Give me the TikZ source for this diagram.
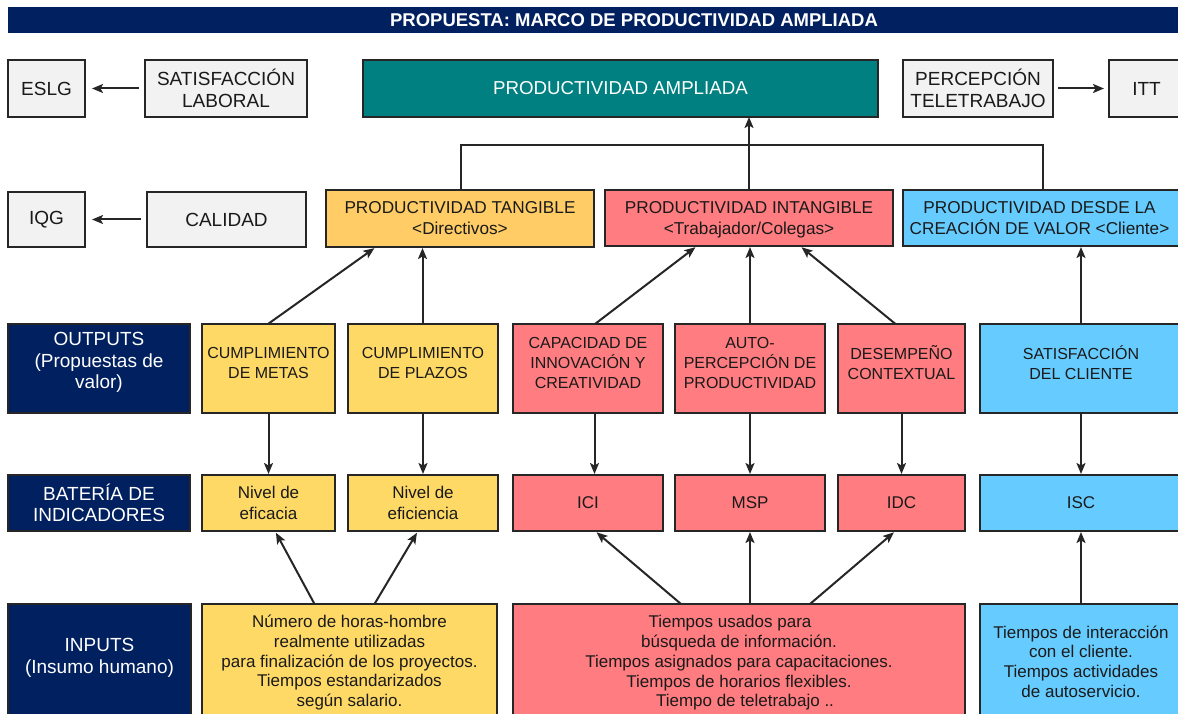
\documentclass[tikz,border=0pt]{standalone}
\usepackage{fontspec}
\setmainfont{Liberation Sans}
\usetikzlibrary{arrows.meta}
\definecolor{navy}{HTML}{002060}
\definecolor{tealbox}{HTML}{008080}
\definecolor{lightgrey}{HTML}{F2F2F2}
\definecolor{orangebox}{HTML}{FFCC66}
\definecolor{yellowbox}{HTML}{FFD966}
\definecolor{pinkbox}{HTML}{FF7C80}
\definecolor{bluebox}{HTML}{66CCFF}
\definecolor{edge}{HTML}{262626}
\definecolor{ink}{HTML}{1A1A1A}
% box given by its corners: [text shift], name, x1, y1, x2, y2, style, text
\newcommand{\bx}[8][0]{%
  \node[#7, minimum width={(#5-#3)*1pt}, minimum height={(#6-#4)*1pt}]
    (#2) at ({(#3+#5)/2},{(#4+#6)/2}) {};
  \node[#7, draw=none, fill=none, minimum width=0pt, minimum height=0pt]
    (#2-txt) at ([yshift=#1pt]#2.center) {#8};}
\begin{document}
\begin{tikzpicture}[x=1pt,y=-1pt,
  box/.style={draw=edge, line width=2pt, inner sep=0pt, outer sep=0pt,
    align=center, text=ink},
  hdr/.style={box, fill=navy, text=white, font=\fontsize{19}{21.5}\selectfont},
  greybox/.style={box, fill=lightgrey, font=\fontsize{19}{22}\selectfont},
  tealb/.style={box, fill=tealbox, text=white, font=\fontsize{18.7}{22}\selectfont},
  head/.style={font=\fontsize{17.2}{21}\selectfont},
  outp/.style={font=\fontsize{16}{20}\selectfont},
  indic/.style={font=\fontsize{17}{21}\selectfont},
  inp/.style={font=\fontsize{17}{19.75}\selectfont},
  orangeb/.style={box, fill=orangebox},
  yellowb/.style={box, fill=yellowbox},
  pinkb/.style={box, fill=pinkbox},
  blueb/.style={box, fill=bluebox},
  link/.style={draw=edge, line width=2pt, -{Stealth[length=11pt,width=9pt,inset=2.5pt]}},
  plain/.style={draw=edge, line width=2pt}]
\useasboundingbox (0,0) rectangle (1178,714);

% title bar
\node[fill=navy, inner sep=0pt, minimum width=1175pt, minimum height=26pt,
  anchor=north west] (bar) at (8,7) {};
\node[text=white, inner sep=0pt, font=\bfseries\fontsize{18.5}{20}\selectfont]
  (title) at (634,20) {PROPUESTA: MARCO DE PRODUCTIVIDAD AMPLIADA};

% top row
\bx{eslg}{8}{60}{85}{117}{greybox}{ESLG}
\bx{satlab}{145}{60}{307}{117}{greybox}{SATISFACCIÓN\\LABORAL}
\bx{ampl}{363}{60}{878}{117}{tealb}{PRODUCTIVIDAD AMPLIADA}
\bx{perc}{903}{60}{1053}{117}{greybox}{PERCEPCIÓN\\TELETRABAJO}
\bx{itt}{1109}{60}{1184}{117}{greybox}{ITT}

% second row
\bx{iqg}{8}{192}{85}{247}{greybox}{IQG}
\bx{calidad}{147}{192}{306}{247}{greybox}{CALIDAD}
\bx{tang}{326}{190}{594}{247}{orangeb,head}{PRODUCTIVIDAD TANGIBLE\\\textless Directivos\textgreater}
\bx[-2]{intang}{605}{190}{893}{246}{pinkb,head}{PRODUCTIVIDAD INTANGIBLE\\\textless Trabajador/Colegas\textgreater}
\bx{creac}{903}{190}{1182}{246}{blueb,head}{\hspace*{-6pt}PRODUCTIVIDAD DESDE LA\\\hspace*{-6pt}CREACIÓN DE VALOR \textless Cliente\textgreater}

% outputs
\bx[6]{outputs}{8}{324}{190}{413}{hdr}{OUTPUTS\\(Propuestas de\\valor)}
\bx[6]{metas}{202}{324}{335}{413}{yellowb,outp}{CUMPLIMIENTO\\DE METAS}
\bx[6]{plazos}{348}{324}{498}{413}{yellowb,outp}{CUMPLIMIENTO\\DE PLAZOS}
\bx[6]{capac}{513}{324}{663}{413}{pinkb,outp}{CAPACIDAD DE\\INNOVACIÓN Y\\CREATIVIDAD}
\bx[6]{autop}{675}{324}{825}{413}{pinkb,outp}{AUTO-\\PERCEPCIÓN DE\\PRODUCTIVIDAD}
\bx[6]{desemp}{838}{324}{965}{413}{pinkb,outp}{DESEMPEÑO\\CONTEXTUAL}
\bx[6]{satcli}{980}{324}{1182}{413}{blueb,outp}{SATISFACCIÓN\\DEL CLIENTE}

% indicators
\bx{bateria}{8}{475}{190}{531}{hdr}{BATERÍA DE\\INDICADORES}
\bx{eficacia}{202}{475}{335}{531}{yellowb,indic}{Nivel de\\eficacia}
\bx{eficiencia}{348}{475}{498}{531}{yellowb,indic}{Nivel de\\eficiencia}
\bx{ici}{513}{475}{663}{531}{pinkb,indic}{ICI}
\bx{msp}{675}{475}{825}{531}{pinkb,indic}{MSP}
\bx{idc}{838}{475}{965}{531}{pinkb,indic}{IDC}
\bx{isc}{980}{475}{1182}{531}{blueb,indic}{ISC}

% inputs
\bx[5]{inputs}{8}{604}{191}{722}{hdr}{INPUTS\\(Insumo humano)}
\bx[0.5]{inyel}{202}{604}{497}{722}{yellowb,inp}{Número de horas-hombre\\realmente utilizadas\\para finalización de los proyectos.\\Tiempos estandarizados\\según salario.}
\bx[0]{inpink}{513}{604}{965}{722}{pinkb,inp}{Tiempos usados para\hspace*{18pt}\\búsqueda de información.\hspace*{22pt}\\Tiempos asignados para capacitaciones.\\Tiempos de horarios flexibles.\hspace*{16pt}\\\hspace*{12pt}Tiempo de teletrabajo ..}
\bx[1.5]{inblue}{980}{604}{1182}{722}{blueb,inp}{Tiempos de interacción\\con el cliente.\\Tiempos actividades\\de autoservicio.}

% side arrows of the two upper rows
\draw[link, shorten <=6pt, shorten >=7pt] (satlab.west) -- (eslg.east);
\draw[link, shorten <=6pt, shorten >=7pt] (calidad.west) -- (iqg.east);
\draw[link, shorten <=5pt, shorten >=5pt] (perc.east) -- (itt.west);

% aggregation into expanded productivity
\draw[plain] ([xshift=1pt]tang.north) -- ++(0,-45) -| (creac.north);
\draw[link] (intang.north) -- (intang.north |- ampl.south);

% outputs to the three kinds of productivity
\draw[link, shorten >=2pt] ([xshift=-0.5pt]metas.north) -- ([xshift=-84pt]tang.south);
\draw[link, shorten >=1pt] ([xshift=-0.5pt]plazos.north) -- ([xshift=-37.5pt]tang.south);
\draw[link, shorten >=2pt] ([xshift=7pt]capac.north) -- ([xshift=-52pt]intang.south);
\draw[link, shorten >=1pt] (autop.north) -- (autop.north |- intang.south);
\draw[link, shorten >=2pt] ([xshift=-6pt]desemp.north) -- ([xshift=51pt]intang.south);
\draw[link, shorten >=1pt] (satcli.north) -- (satcli.north |- creac.south);

% outputs to indicators
\draw[link, shorten >=1pt] (metas.south) -- (eficacia.north);
\draw[link, shorten >=1pt] (plazos.south) -- (eficiencia.north);
\draw[link, shorten >=1pt] ([xshift=6.5pt]capac.south) -- ([xshift=6.5pt]ici.north);
\draw[link, shorten >=1pt] (autop.south) -- (msp.north);
\draw[link, shorten >=1pt] (desemp.south) -- (idc.north);
\draw[link, shorten >=1pt] (satcli.south) -- (isc.north);

% inputs to indicators
\draw[link, shorten >=2pt] ([xshift=-35pt]inyel.north) -- ([xshift=6.5pt]eficacia.south);
\draw[link, shorten >=2pt] ([xshift=25pt]inyel.north) -- ([xshift=-5pt]eficiencia.south);
\draw[link, shorten >=2pt] ([xshift=-58pt]inpink.north) -- ([xshift=7pt]ici.south);
\draw[link, shorten >=1pt] ([xshift=11pt]inpink.north) -- ([xshift=11pt]inpink.north |- msp.south);
\draw[link, shorten >=2pt] ([xshift=71pt]inpink.north) -- ([xshift=-6pt]idc.south);
\draw[link, shorten >=1pt] (inblue.north) -- (isc.south);
\end{tikzpicture}
\end{document}
